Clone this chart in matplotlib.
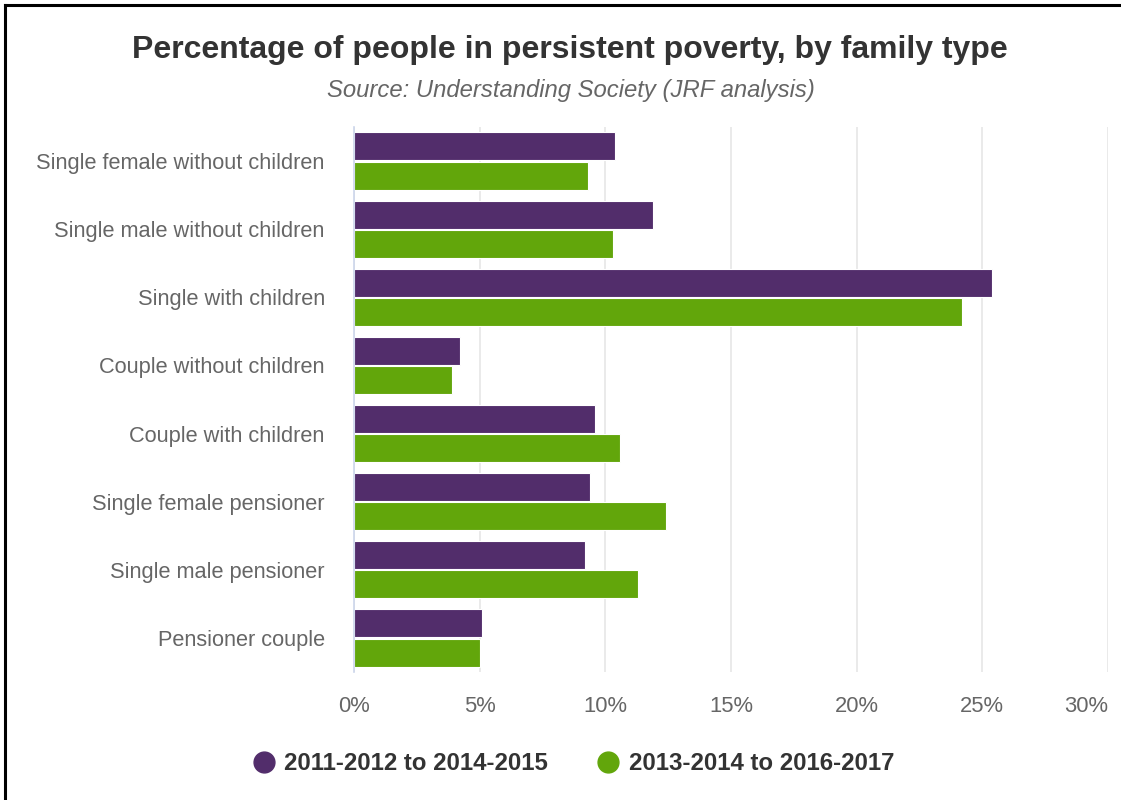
import matplotlib
matplotlib.use("Agg")
import matplotlib.pyplot as plt
from matplotlib.lines import Line2D
import numpy as np

plt.rcParams['font.family'] = ['Liberation Sans', 'DejaVu Sans']

categories = [
    "Single female without children",
    "Single male without children",
    "Single with children",
    "Couple without children",
    "Couple with children",
    "Single female pensioner",
    "Single male pensioner",
    "Pensioner couple",
]
series_names = ["2011-2012 to 2014-2015", "2013-2014 to 2016-2017"]
period_2011_2015 = [10.4, 11.9, 25.4, 4.2, 9.6, 9.4, 9.2, 5.1]
period_2013_2017 = [9.3, 10.3, 24.2, 3.9, 10.6, 12.4, 11.3, 5.0]
x_ticks = [0, 5, 10, 15, 20, 25, 30]
x_tick_labels = ["0%", "5%", "10%", "15%", "20%", "25%", "30%"]

purple = "#522d6b"
green = "#62a60b"

fig = plt.figure(figsize=(11.21, 8.0), dpi=100)
W, H = 1121, 800

# plot area in pixels: x 354..1108, y 127..672
ax = fig.add_axes([354 / W, 1 - 672 / H, (1108 - 354) / W, (672 - 127) / H])

y = np.arange(len(categories))
bar_h = 0.41
off = 0.215
ax.barh(y - off, period_2011_2015, height=bar_h, color=purple,
        edgecolor="white", linewidth=0.8, zorder=3)
ax.barh(y + off, period_2013_2017, height=bar_h, color=green,
        edgecolor="white", linewidth=0.8, zorder=3)

ax.set_ylim(len(categories) - 0.5, -0.5)
ax.set_xlim(0, 30)
ax.set_xticks(x_ticks)
ax.set_xticklabels(x_tick_labels)
ax.set_yticks(y)
ax.set_yticklabels(categories)

ax.grid(axis="x", color="#e6e6e6", linewidth=1.2, zorder=0)
for s in ["top", "right", "bottom"]:
    ax.spines[s].set_visible(False)
ax.spines["left"].set_color("#ccd6eb")
ax.spines["left"].set_linewidth(1.2)
ax.spines["left"].set_zorder(4)

ax.tick_params(axis="x", length=0, labelsize=15.8, labelcolor="#666666", pad=17)
ax.tick_params(axis="y", length=0, labelsize=15.7, labelcolor="#666666", pad=21)
ax.get_xticklabels()[-1].set_horizontalalignment("right")

fig.text(570 / W, 1 - 50 / H, "Percentage of people in persistent poverty, by family type",
         ha="center", va="center", fontsize=23, fontweight="bold", color="#333333")
fig.text(571 / W, 1 - 90 / H, "Source: Understanding Society (JRF analysis)",
         ha="center", va="center", fontsize=17.2, style="italic", color="#666666")

handles = [Line2D([], [], marker="o", linestyle="", markersize=15,
                  markerfacecolor=c, markeredgecolor=c) for c in (purple, green)]
fig.legend(handles, series_names, loc="center", bbox_to_anchor=(573 / W, 1 - 764 / H),
           ncol=2, frameon=False, prop={"weight": "bold", "size": 17.3},
           handletextpad=0.35, columnspacing=2.0, handlelength=1.0,
           labelcolor="#333333")

# frame lines along the top and left edges
fig.add_artist(Line2D([5 / W, 1], [1 - 5 / H, 1 - 5 / H], color="black", linewidth=2.2))
fig.add_artist(Line2D([5 / W, 5 / W], [0, 1 - 5 / H], color="black", linewidth=2.2))

fig.savefig("out.png", dpi=100, facecolor="white")
